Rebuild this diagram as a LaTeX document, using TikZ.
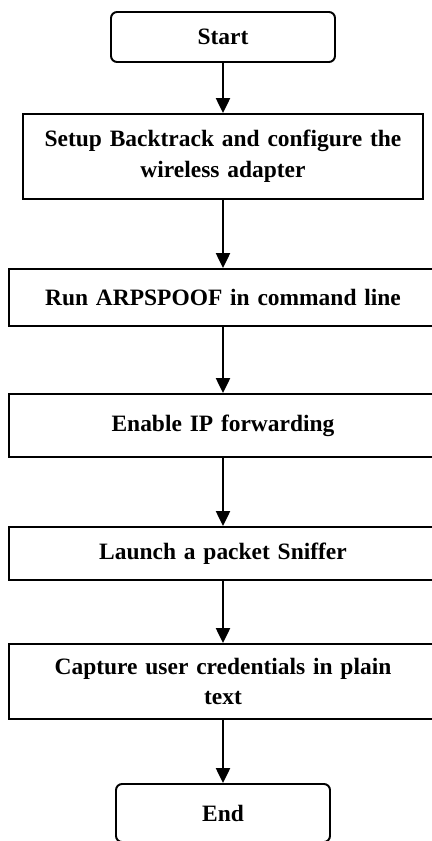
\documentclass[tikz,border=0pt]{standalone}
\usepackage{fontspec}
\setmainfont{Liberation Serif}
\usepackage{tikz}
\usetikzlibrary{arrows.meta, positioning}

\begin{document}
\begin{tikzpicture}[x=0.02cm, y=-0.02cm,
    font=\fontsize{13.35}{17.6}\selectfont\bfseries,
    term/.style={draw, line width=1.1pt, rounded corners=0.12cm,
                 minimum width=4.48cm, minimum height=1cm, inner sep=0pt},
    stepbox/.style={draw, line width=1.1pt, minimum width=8.56cm,
                    text width=7.9cm, align=center, inner sep=0pt},
    flow/.style={-{Triangle[width=8pt, length=8.5pt]}, line width=1.1pt}]
  \useasboundingbox (0,0) rectangle (432,841);
  % start and end
  \node[term] (start) at (223,37) {Start};
  \node[term, minimum width=4.28cm, minimum height=1.16cm]
    (end) at (223,813) {End};
  % steps
  \node[stepbox, minimum width=8cm, minimum height=1.7cm]
    (setup) at (223,156.5) {Setup Backtrack and configure the\\ wireless adapter};
  \node[stepbox, minimum height=1.14cm]
    (arp) at (223,297.5) {Run ARPSPOOF in command line};
  \node[stepbox, minimum height=1.26cm]
    (ipfwd) at (223,425.5) {Enable IP forwarding};
  \node[stepbox, minimum height=1.06cm]
    (sniff) at (223,553.5) {Launch a packet Sniffer};
  \node[stepbox, minimum height=1.5cm]
    (capture) at (223,681.5) {Capture user credentials in plain\\ text};
  % arrows
  \draw[flow] (start) -- (setup);
  \draw[flow] (setup) -- (arp);
  \draw[flow] (arp) -- (ipfwd);
  \draw[flow] (ipfwd) -- (sniff);
  \draw[flow] (sniff) -- (capture);
  \draw[flow] (capture) -- (end);
\end{tikzpicture}
\end{document}
